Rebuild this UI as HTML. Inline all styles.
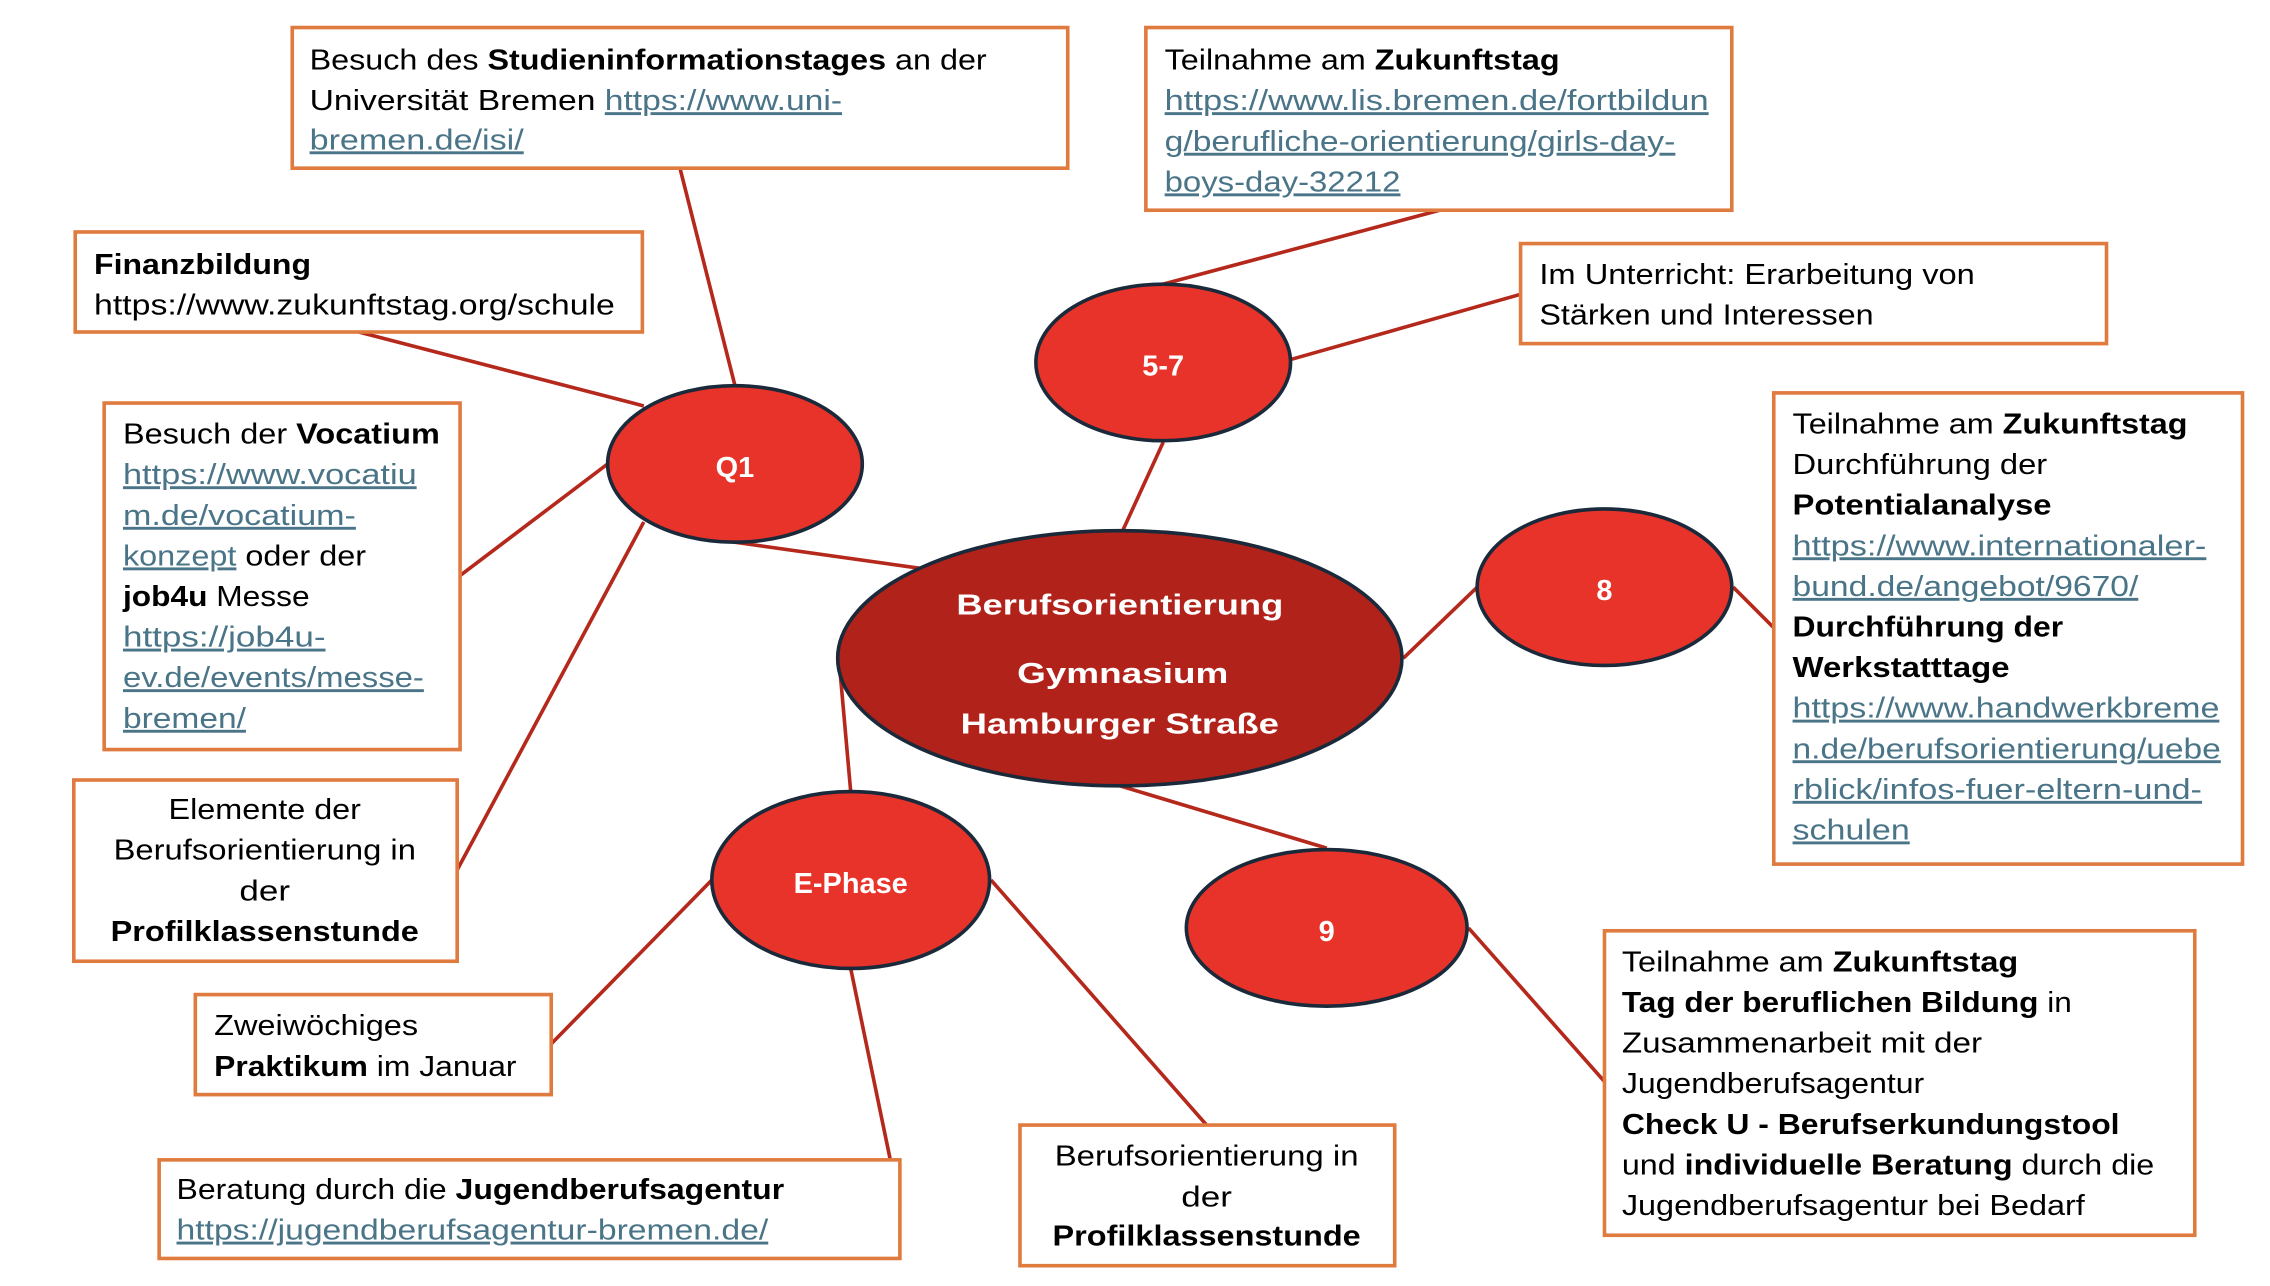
<!DOCTYPE html>
<html><head><meta charset="utf-8"><style>
html,body{margin:0;padding:0;background:#fff;overflow:hidden;}
svg{display:block;}
text{font-family:"Liberation Sans",sans-serif;font-size:20px;fill:#000;}
.b{font-weight:bold;}
.l{fill:#4A7487;text-decoration:underline;}
.w{fill:#fff;font-weight:bold;}
</style></head><body>
<svg width="2270" height="1286" viewBox="0 0 1569 887" preserveAspectRatio="none" xmlns="http://www.w3.org/2000/svg">
<g stroke="#B5281C" stroke-width="2.5">
<line x1="470" y1="116" x2="508" y2="266"/>
<line x1="248" y1="229" x2="445" y2="280"/>
<line x1="318" y1="397" x2="420" y2="320"/>
<line x1="316" y1="600" x2="445" y2="360"/>
<line x1="508" y1="374" x2="636" y2="392"/>
<line x1="804" y1="196" x2="995" y2="145"/>
<line x1="892" y1="248" x2="1051" y2="203"/>
<line x1="804" y1="305" x2="776" y2="366"/>
<line x1="970" y1="454" x2="1021" y2="405"/>
<line x1="1198" y1="405" x2="1226" y2="433"/>
<line x1="774" y1="542" x2="917" y2="585"/>
<line x1="1015" y1="640" x2="1109" y2="746"/>
<line x1="580" y1="456" x2="588" y2="546"/>
<line x1="492" y1="607" x2="381" y2="720"/>
<line x1="588" y1="668" x2="622" y2="832"/>
<line x1="685" y1="607" x2="834" y2="776"/>
</g>
<g fill="#fff" stroke="#E07B40" stroke-width="2.5">
<rect x="202" y="19" width="536" height="97"/>
<rect x="792" y="19" width="405" height="126"/>
<rect x="52" y="160" width="392" height="69"/>
<rect x="1051" y="168" width="405" height="69"/>
<rect x="72" y="278" width="246" height="239"/>
<rect x="1226" y="271" width="324" height="325"/>
<rect x="51" y="538" width="265" height="125"/>
<rect x="135" y="686" width="246" height="69"/>
<rect x="110" y="800" width="512" height="68"/>
<rect x="705" y="776" width="259" height="97"/>
<rect x="1109" y="642" width="408" height="210"/>
</g>
<g stroke="#1a2a3a" stroke-width="2.5">
<ellipse cx="508" cy="320" rx="88" ry="54" fill="#E8332A"/>
<ellipse cx="804" cy="250" rx="88" ry="54" fill="#E8332A"/>
<ellipse cx="1109" cy="405" rx="88" ry="54" fill="#E8332A"/>
<ellipse cx="917" cy="640" rx="97" ry="54" fill="#E8332A"/>
<ellipse cx="588" cy="607" rx="96" ry="61" fill="#E8332A"/>
<ellipse cx="774" cy="454" rx="195" ry="88" fill="#B0221A"/>
</g>
<text class="w" x="508" y="329" text-anchor="middle" font-size="24">Q1</text>
<text class="w" x="804" y="259" text-anchor="middle" font-size="24">5-7</text>
<text class="w" x="1109" y="414" text-anchor="middle" font-size="24">8</text>
<text class="w" x="917" y="649" text-anchor="middle" font-size="24">9</text>
<text class="w" x="588" y="616" text-anchor="middle" font-size="24">E-Phase</text>
<text class="w" x="774" y="424" text-anchor="middle" font-size="24" textLength="226" lengthAdjust="spacingAndGlyphs">Berufsorientierung</text>
<text class="w" x="776" y="471" text-anchor="middle" font-size="24" textLength="146" lengthAdjust="spacingAndGlyphs">Gymnasium</text>
<text class="w" x="774" y="506" text-anchor="middle" font-size="24" textLength="220" lengthAdjust="spacingAndGlyphs">Hamburger Straße</text>

<text x="214" y="48" textLength="468" lengthAdjust="spacingAndGlyphs">Besuch des <tspan class="b">Studieninformationstages</tspan> an der</text>
<text x="214" y="76" textLength="368" lengthAdjust="spacingAndGlyphs">Universität Bremen <tspan class="l">https://www.uni-</tspan></text>
<text x="214" y="103" textLength="148" lengthAdjust="spacingAndGlyphs" class="l">bremen.de/isi/</text>

<text x="805" y="48" textLength="273" lengthAdjust="spacingAndGlyphs">Teilnahme am <tspan class="b">Zukunftstag</tspan></text>
<text x="805" y="76" textLength="376" lengthAdjust="spacingAndGlyphs" class="l">https://www.lis.bremen.de/fortbildun</text>
<text x="805" y="104" textLength="353" lengthAdjust="spacingAndGlyphs" class="l">g/berufliche-orientierung/girls-day-</text>
<text x="805" y="132" textLength="163" lengthAdjust="spacingAndGlyphs" class="l">boys-day-32212</text>

<text x="65" y="189" textLength="150" lengthAdjust="spacingAndGlyphs" class="b">Finanzbildung</text>
<text x="65" y="217" textLength="360" lengthAdjust="spacingAndGlyphs">https://www.zukunftstag.org/schule</text>

<text x="1064" y="196" textLength="301" lengthAdjust="spacingAndGlyphs">Im Unterricht: Erarbeitung von</text>
<text x="1064" y="224" textLength="231" lengthAdjust="spacingAndGlyphs">Stärken und Interessen</text>

<text x="85" y="306" textLength="219" lengthAdjust="spacingAndGlyphs">Besuch der <tspan class="b">Vocatium</tspan></text>
<text x="85" y="334" textLength="203" lengthAdjust="spacingAndGlyphs" class="l">https://www.vocatiu</text>
<text x="85" y="362" textLength="161" lengthAdjust="spacingAndGlyphs" class="l">m.de/vocatium-</text>
<text x="85" y="390" textLength="168" lengthAdjust="spacingAndGlyphs"><tspan class="l">konzept</tspan> oder der</text>
<text x="85" y="418" textLength="129" lengthAdjust="spacingAndGlyphs"><tspan class="b">job4u</tspan> Messe</text>
<text x="85" y="446" textLength="140" lengthAdjust="spacingAndGlyphs" class="l">https://job4u-</text>
<text x="85" y="474" textLength="208" lengthAdjust="spacingAndGlyphs" class="l">ev.de/events/messe-</text>
<text x="85" y="502" textLength="85" lengthAdjust="spacingAndGlyphs" class="l">bremen/</text>

<text x="1239" y="299" textLength="273" lengthAdjust="spacingAndGlyphs">Teilnahme am <tspan class="b">Zukunftstag</tspan></text>
<text x="1239" y="327" textLength="176" lengthAdjust="spacingAndGlyphs">Durchführung der</text>
<text x="1239" y="355" textLength="179" lengthAdjust="spacingAndGlyphs" class="b">Potentialanalyse</text>
<text x="1239" y="383" textLength="286" lengthAdjust="spacingAndGlyphs" class="l">https://www.internationaler-</text>
<text x="1239" y="411" textLength="239" lengthAdjust="spacingAndGlyphs" class="l">bund.de/angebot/9670/</text>
<text x="1239" y="439" textLength="187" lengthAdjust="spacingAndGlyphs" class="b">Durchführung der</text>
<text x="1239" y="467" textLength="150" lengthAdjust="spacingAndGlyphs" class="b">Werkstatttage</text>
<text x="1239" y="495" textLength="295" lengthAdjust="spacingAndGlyphs" class="l">https://www.handwerkbreme</text>
<text x="1239" y="523" textLength="296" lengthAdjust="spacingAndGlyphs" class="l">n.de/berufsorientierung/uebe</text>
<text x="1239" y="551" textLength="283" lengthAdjust="spacingAndGlyphs" class="l">rblick/infos-fuer-eltern-und-</text>
<text x="1239" y="579" textLength="81" lengthAdjust="spacingAndGlyphs" class="l">schulen</text>

<text x="183" y="565" text-anchor="middle" textLength="133" lengthAdjust="spacingAndGlyphs">Elemente der</text>
<text x="183" y="593" text-anchor="middle" textLength="209" lengthAdjust="spacingAndGlyphs">Berufsorientierung in</text>
<text x="183" y="621" text-anchor="middle" textLength="35" lengthAdjust="spacingAndGlyphs">der</text>
<text x="183" y="649" text-anchor="middle" textLength="213" lengthAdjust="spacingAndGlyphs" class="b">Profilklassenstunde</text>

<text x="148" y="714" textLength="141" lengthAdjust="spacingAndGlyphs">Zweiwöchiges</text>
<text x="148" y="742" textLength="209" lengthAdjust="spacingAndGlyphs"><tspan class="b">Praktikum</tspan> im Januar</text>

<text x="122" y="827" textLength="420" lengthAdjust="spacingAndGlyphs">Beratung durch die <tspan class="b">Jugendberufsagentur</tspan></text>
<text x="122" y="855" textLength="409" lengthAdjust="spacingAndGlyphs" class="l">https://jugendberufsagentur-bremen.de/</text>

<text x="834" y="804" text-anchor="middle" textLength="210" lengthAdjust="spacingAndGlyphs">Berufsorientierung in</text>
<text x="834" y="832" text-anchor="middle" textLength="35" lengthAdjust="spacingAndGlyphs">der</text>
<text x="834" y="859" text-anchor="middle" textLength="213" lengthAdjust="spacingAndGlyphs" class="b">Profilklassenstunde</text>

<text x="1121" y="670" textLength="274" lengthAdjust="spacingAndGlyphs">Teilnahme am <tspan class="b">Zukunftstag</tspan></text>
<text x="1121" y="698" textLength="311" lengthAdjust="spacingAndGlyphs"><tspan class="b">Tag der beruflichen Bildung</tspan> in</text>
<text x="1121" y="726" textLength="249" lengthAdjust="spacingAndGlyphs">Zusammenarbeit mit der</text>
<text x="1121" y="754" textLength="209" lengthAdjust="spacingAndGlyphs">Jugendberufsagentur</text>
<text x="1121" y="782" textLength="344" lengthAdjust="spacingAndGlyphs" class="b">Check U - Berufserkundungstool</text>
<text x="1121" y="810" textLength="368" lengthAdjust="spacingAndGlyphs">und <tspan class="b">individuelle Beratung</tspan> durch die</text>
<text x="1121" y="838" textLength="320" lengthAdjust="spacingAndGlyphs">Jugendberufsagentur bei Bedarf</text>
</svg>
</body></html>
